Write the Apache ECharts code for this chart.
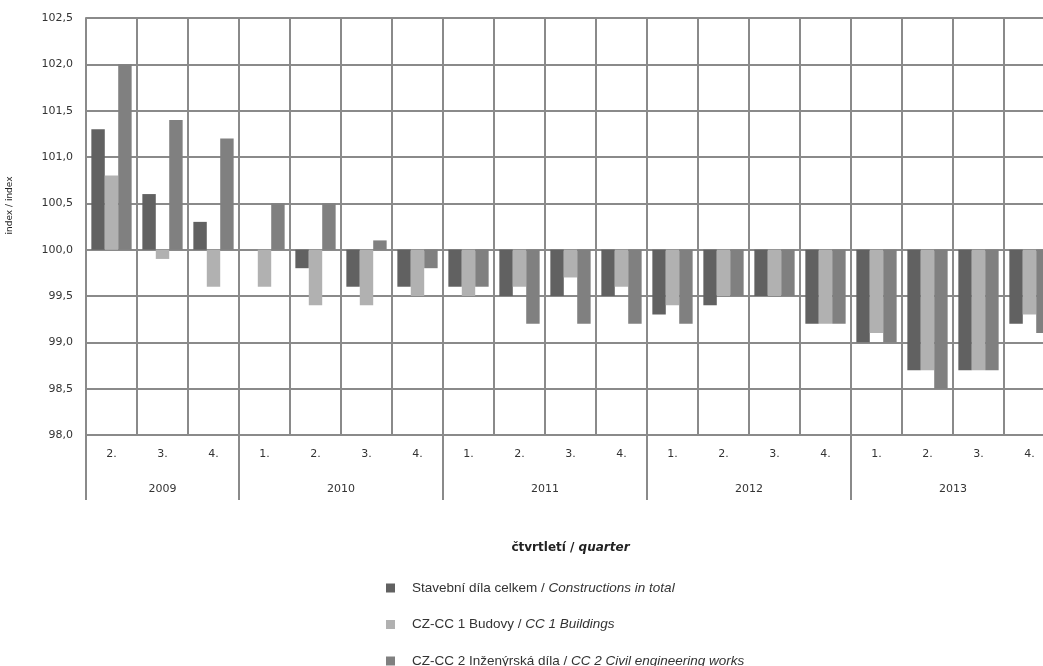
<!DOCTYPE html>
<html>
<head>
<meta charset="utf-8">
<title>Stavební díla</title>
<script src="https://cdn.jsdelivr.net/npm/echarts@6/dist/echarts.min.js"></script>
<style>
  html, body { margin: 0; padding: 0; background: #fff; }
  #chart { width: 1043px; height: 666px; }
</style>
</head>
<body>
<div id="chart"></div>
<script>
// quarters 2009 Q2 .. 2013 Q4
const quarters = ['2.', '3.', '4.', '1.', '2.', '3.', '4.', '1.', '2.', '3.', '4.', '1.', '2.', '3.', '4.', '1.', '2.', '3.', '4.']
const years = ['2009', '2010', '2011', '2012', '2013']
const yearBounds = [0, 3, 7, 11, 15, 19] // category index where each year starts
const yearMids = [1.5, 5, 9, 13, 17]

const seriesNames = [
  'Stavební díla celkem / Constructions in total',
  'CZ-CC 1 Budovy / CC 1 Buildings',
  'CZ-CC 2 Inženýrská díla / CC 2 Civil engineering works'
]
const total = [101.3, 100.6, 100.3, 100.0, 99.8, 99.6, 99.6, 99.6, 99.5, 99.5, 99.5, 99.3, 99.4, 99.5, 99.2, 99.0, 98.7, 98.7, 99.2]
const buildings = [100.8, 99.9, 99.6, 99.6, 99.4, 99.4, 99.5, 99.5, 99.6, 99.7, 99.6, 99.4, 99.5, 99.5, 99.2, 99.1, 98.7, 98.7, 99.3]
const civil = [102.0, 101.4, 101.2, 100.5, 100.5, 100.1, 99.8, 99.6, 99.2, 99.2, 99.2, 99.2, 99.5, 99.5, 99.2, 99.0, 98.5, 98.7, 99.1]

const colors = ['#616161', '#b1b1b1', '#808080']
const base = 100 // bars grow from 100,0

const chart = echarts.init(document.getElementById('chart'))

const gridLine = { color: '#8a8a8a', width: 2 }
const labelFont = { fontFamily: 'DejaVu Sans', fontSize: 11, color: '#333' }

function fmt(v) {
  return (v + base).toFixed(1).replace('.', ',')
}

chart.setOption({
  animation: false,
  color: colors,
  grid: { left: 86, top: 18, bottom: 231, right: -12, outerBoundsMode: 'none', containLabel: false },
  legend: {
    orient: 'vertical',
    left: 381,
    top: 576,
    height: 120,
    icon: 'rect',
    itemWidth: 9,
    itemHeight: 9,
    itemGap: 22.5,
    formatter: function (name) {
      const p = name.split(' / ')
      return '{a|' + p[0] + ' / }{b|' + p[1] + '}'
    },
    textStyle: {
      padding: [0, 0, 0, 12],
      rich: {
        a: { fontFamily: 'Liberation Sans', fontSize: 13.5, color: '#333', lineHeight: 16 },
        b: { fontFamily: 'Liberation Sans', fontSize: 13.5, fontStyle: 'italic', color: '#333', lineHeight: 16 }
      }
    }
  },
  xAxis: [
    {
      type: 'category',
      data: quarters,
      position: 'bottom',
      axisLine: { lineStyle: gridLine },
      axisTick: { show: false },
      axisLabel: Object.assign({ margin: 14 }, labelFont),
      splitLine: { show: true, lineStyle: gridLine }
    },
    {
      type: 'value',
      min: 0,
      max: 19,
      position: 'bottom',
      axisLine: { show: false },
      splitLine: { show: false },
      axisTick: {
        show: true,
        length: 65,
        customValues: yearBounds,
        lineStyle: gridLine
      },
      axisLabel: Object.assign({
        margin: 49,
        customValues: yearMids,
        formatter: function (v) {
          return years[yearMids.indexOf(v)]
        }
      }, labelFont),
      name: '{a|čtvrtletí / }{b|quarter}',
      nameLocation: 'middle',
      nameGap: 107,
      nameTextStyle: {
        rich: {
          a: { fontFamily: 'DejaVu Sans', fontSize: 12, fontWeight: 'bold', color: '#222' },
          b: { fontFamily: 'DejaVu Sans', fontSize: 12, fontWeight: 'bold', fontStyle: 'italic', color: '#222' }
        }
      }
    }
  ],
  yAxis: {
    type: 'value',
    min: -2,
    max: 2.5,
    interval: 0.5,
    axisLine: { show: true, lineStyle: gridLine },
    axisTick: { show: false },
    axisLabel: Object.assign({ margin: 13, formatter: fmt }, labelFont),
    splitLine: { show: true, lineStyle: gridLine },
    name: 'index / index',
    nameLocation: 'middle',
    nameRotate: 90,
    nameGap: 72,
    nameTextStyle: { fontFamily: 'DejaVu Sans', fontSize: 9, color: '#222', padding: [0, 0, 0, 42] }
  },
  series: [total, buildings, civil].map(function (vals, i) {
    return {
      name: seriesNames[i],
      type: 'bar',
      xAxisIndex: 0,
      barGap: '0%',
      barCategoryGap: '21%',
      itemStyle: { color: colors[i] },
      data: vals.map(function (v) { return +(v - base).toFixed(2) })
    }
  })
})
</script>
</body>
</html>
